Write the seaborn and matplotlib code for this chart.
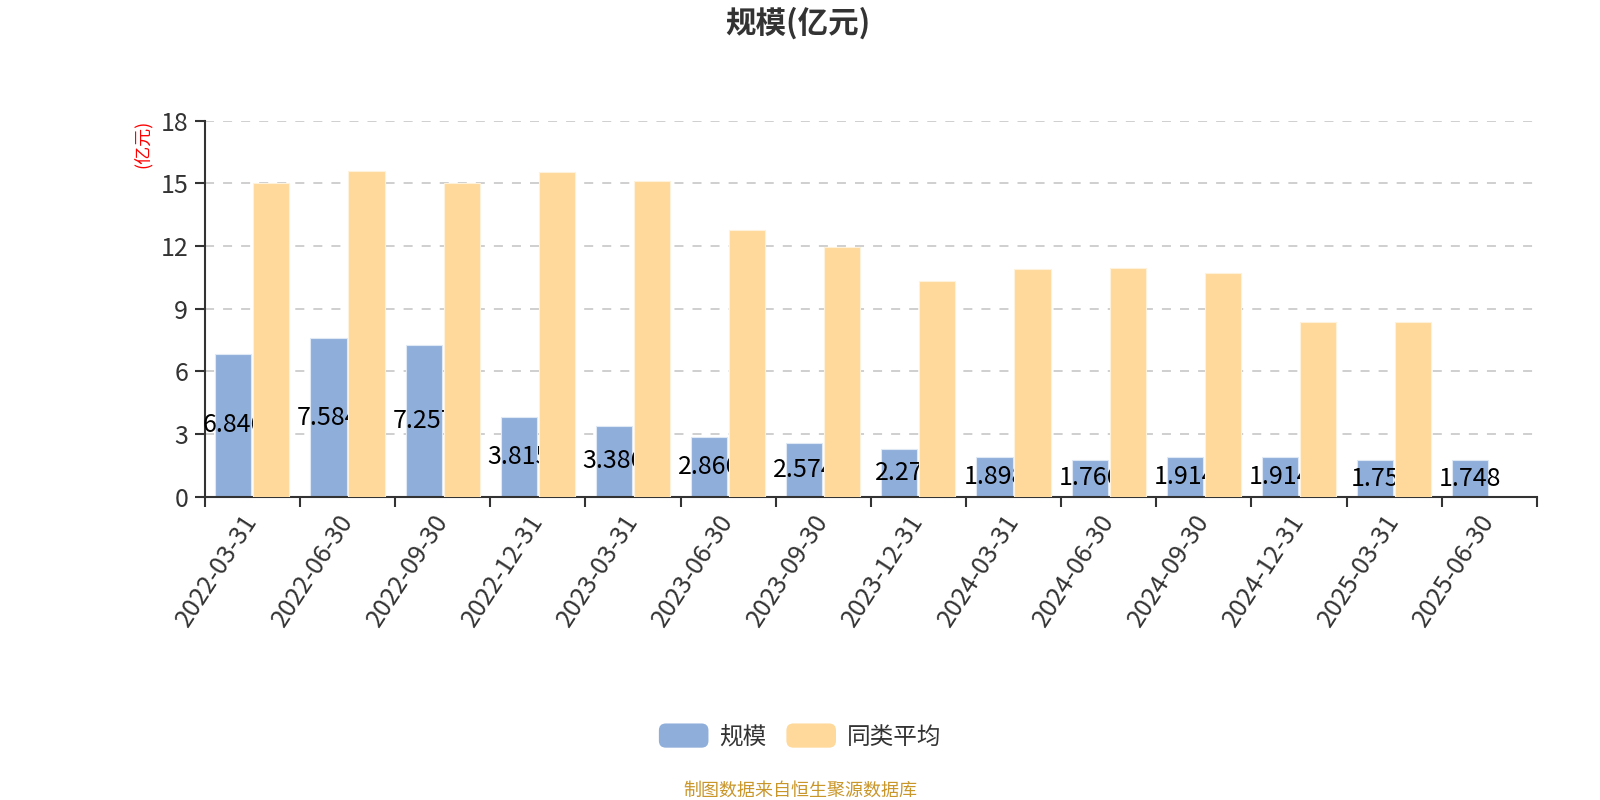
import numpy as np
import pandas as pd
import matplotlib
matplotlib.use("Agg")
import matplotlib.pyplot as plt
import seaborn as sns
from matplotlib.patches import Patch, FancyBboxPatch
from matplotlib.legend_handler import HandlerPatch

dates = ["2022-03-31", "2022-06-30", "2022-09-30", "2022-12-31",
         "2023-03-31", "2023-06-30", "2023-09-30", "2023-12-31",
         "2024-03-31", "2024-06-30", "2024-09-30", "2024-12-31",
         "2025-03-31", "2025-06-30"]
scale = [6.846, 7.584, 7.257, 3.815, 3.386, 2.866, 2.574, 2.27,
         1.898, 1.766, 1.914, 1.914, 1.75, 1.748]
peer_avg = [15.04, 15.61, 15.02, 15.57, 15.14, 12.75, 11.95, 10.34,
            10.90, 10.94, 10.69, 8.36, 8.35, np.nan]
series_names = ["规模", "同类平均"]
yticks = [0, 3, 6, 9, 12, 15, 18]

BLUE = "#8FAEDA"
YELLOW = "#FED99B"
DARK = "#333333"

sns.set_theme(style="white")
plt.rcParams["font.family"] = ["Noto Sans CJK SC", "DejaVu Sans"]

df = pd.DataFrame({
    "date": dates * 2,
    "value": scale + peer_avg,
    "series": [series_names[0]] * len(dates) + [series_names[1]] * len(dates),
})

fig = plt.figure(figsize=(16, 8), dpi=100)
ax = fig.add_axes([0.128, 0.379, 0.8325, 0.470])

sns.barplot(data=df, x="date", y="value", hue="series", order=dates,
            hue_order=series_names, palette=[BLUE, YELLOW], width=0.8,
            gap=0.05, errorbar=None, ax=ax, legend=False, saturation=1)

for p in ax.containers[0]:
    p.set_zorder(2)
    p.set_edgecolor("#dfe8f5")
    p.set_linewidth(0.8)
for p in ax.containers[1]:
    p.set_zorder(4)
    p.set_edgecolor("#fff2dc")
    p.set_linewidth(0.8)

# value labels (inside, centred) for 规模; partly hidden behind 同类平均 bars
for p, v in zip(ax.containers[0], scale):
    cx = p.get_x() + p.get_width() / 2
    cy = p.get_y() + p.get_height() / 2
    ax.text(cx, cy, f"{v:g}", ha="center", va="center", fontsize=18,
            color="black", zorder=3)

ax.set_xlim(-0.5, len(dates) - 0.5)
ax.set_ylim(0, 18)
ax.set_yticks(yticks)
ax.set_yticklabels([str(t) for t in yticks])
ax.yaxis.grid(True, linestyle=(0, (5, 5)), color="#cccccc", linewidth=1.3)
ax.xaxis.grid(False)
ax.set_axisbelow(True)

# tick marks at category boundaries, labels at centres
ax.set_xticks(np.arange(len(dates)))
ax.set_xticklabels(dates, rotation=57, ha="right", va="center",
                   rotation_mode="anchor", fontsize=18, color=DARK)
ax.set_xticks(np.arange(-0.5, len(dates)), minor=True)
ax.tick_params(axis="x", which="major", length=0, pad=14)
ax.tick_params(axis="x", which="minor", length=7, width=1.5, color=DARK,
               direction="out", bottom=True)
ax.tick_params(axis="y", length=7, width=1.5, color=DARK, direction="out",
               labelsize=18, labelcolor=DARK, pad=5, left=True)

for s in ["top", "right"]:
    ax.spines[s].set_visible(False)
for s in ["left", "bottom"]:
    ax.spines[s].set_color(DARK)
    ax.spines[s].set_linewidth(1.5)

ax.set_xlabel("")
ax.set_ylabel("")

fig.text(0.0894, 0.82, "(亿元)", rotation=90, color="red", fontsize=13,
         ha="center", va="center")
fig.text(0.499, 0.971, "规模(亿元)", fontsize=22, fontweight="bold",
         color=DARK, ha="center", va="center")
fig.text(0.5, 0.012, "制图数据来自恒生聚源数据库", fontsize=13,
         color="#C9962A", ha="center", va="center")


def rounded(legend, orig_handle, xdescent, ydescent, width, height, fontsize):
    return FancyBboxPatch((-xdescent, -ydescent), width, height,
                          boxstyle="round,pad=0,rounding_size=5")


handles = [Patch(facecolor=BLUE, edgecolor="none"),
           Patch(facecolor=YELLOW, edgecolor="none")]
fig.legend(handles, series_names, loc="center", bbox_to_anchor=(0.5, 0.08),
           ncol=2, frameon=False, fontsize=17, handlelength=2.1,
           handleheight=1.2, handletextpad=0.45, columnspacing=0.85,
           labelcolor=DARK,
           handler_map={Patch: HandlerPatch(patch_func=rounded)})

fig.savefig("out.png", dpi=100)
